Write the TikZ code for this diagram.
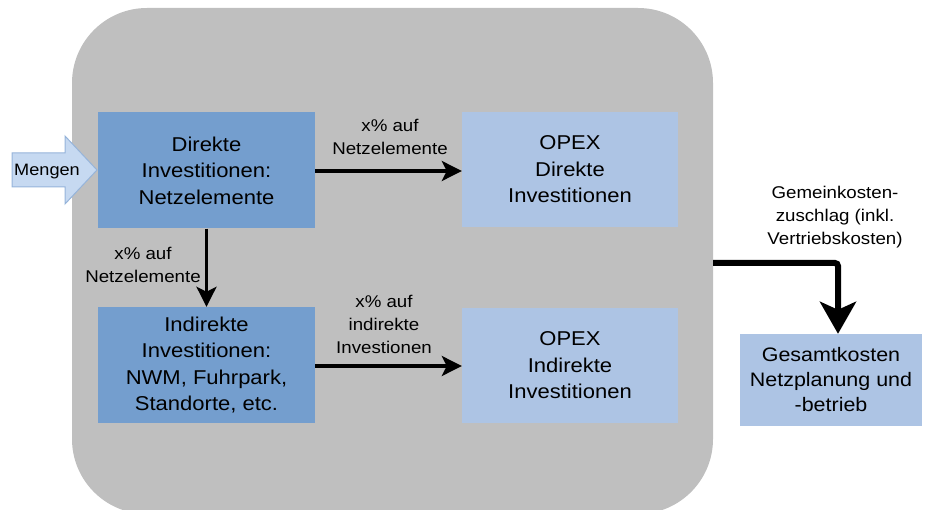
\documentclass[tikz,border=0pt]{standalone}
\usepackage{fontspec}
\setmainfont{Liberation Sans}[FakeStretch=1.1]
\usetikzlibrary{arrows.meta}
\definecolor{bg}{RGB}{191,191,191}
\definecolor{darkbox}{RGB}{116,158,206}
\definecolor{lightbox}{RGB}{173,196,228}
\definecolor{mfill}{RGB}{198,217,241}
\definecolor{mdraw}{RGB}{150,180,218}
\begin{document}
\begin{tikzpicture}[x=1pt,y=-1pt,
  boxd/.style={fill=darkbox, minimum width=217pt, minimum height=116pt, inner sep=0pt, align=center, font=\fontsize{20}{26.5}\selectfont},
  boxl/.style={fill=lightbox, minimum width=216pt, minimum height=115pt, inner sep=0pt, align=center, font=\fontsize{20}{26.5}\selectfont},
  lbl/.style={align=center, inner sep=0pt, font=\fontsize{17}{23}\selectfont},
  conn/.style={line width=3.5pt, -{Stealth[length=20pt,width=20pt,inset=5pt]}},
  bigconn/.style={line width=6pt, rounded corners=3pt, -{Stealth[length=32pt,width=36pt,inset=8pt]}}]
\useasboundingbox (0,0) rectangle (925,510);
\begin{scope}
\clip (0,0) rectangle (925,510);
\node[fill=bg, rounded corners=75pt, minimum width=641pt, minimum height=506pt, inner sep=0pt] (panel) at (392.5,261) {};
\end{scope}

% Mengen block arrow
\draw[fill=mfill, draw=mdraw, line width=1pt, line join=miter]
  (12,153) -- (65,153) -- (65,136) -- (97,170) -- (65,204) -- (65,187) -- (12,187) -- cycle;
\node[font=\fontsize{16.5}{20}\selectfont, inner sep=0pt] (mengen) at (47,172) {Mengen};

\node[boxd] (direkt) at (206.5,170.5) {Direkte\\Investitionen:\\Netzelemente};
\node[boxl] (opexd) at (570,169.5) {OPEX\\Direkte\\Investitionen};
\node[boxd, minimum height=116pt] (indirekt) at (206.5,365) {Indirekte\\Investitionen:\\NWM, Fuhrpark,\\Standorte, etc.};
\node[boxl] (opexi) at (570,365.5) {OPEX\\Indirekte\\Investitionen};
\node[fill=lightbox, minimum width=182pt, minimum height=92pt, inner sep=0pt, align=center, font=\fontsize{19.5}{25}\selectfont] (gesamt) at (831,380) {Gesamtkosten\\Netzplanung und\\-betrieb};

\node[lbl] (l1) at (390,137) {x\% auf\\Netzelemente};
\node[lbl] (l2) at (143,265) {x\% auf\\Netzelemente};
\node[lbl] (l3) at (384,324) {x\% auf\\indirekte\\Investionen};
\node[lbl] (l4) at (835,217) {Gemeinkosten-\\zuschlag (inkl.\\Vertriebskosten)};

\coordinate (c1) at ([yshift=-0.5pt]direkt.east);
\draw[conn] (c1) -- (c1 -| opexd.west);
\draw[conn] (direkt.south) -- (direkt.south |- indirekt.north);
\coordinate (c3) at ([yshift=-1pt]indirekt.east);
\draw[conn] (c3) -- (c3 -| opexi.west);
\coordinate (c4) at ([yshift=-2pt]panel.east);
\coordinate (c5) at ([xshift=7pt]gesamt.north);
\draw[bigconn] (c4) -| (c5);
\end{tikzpicture}
\end{document}
